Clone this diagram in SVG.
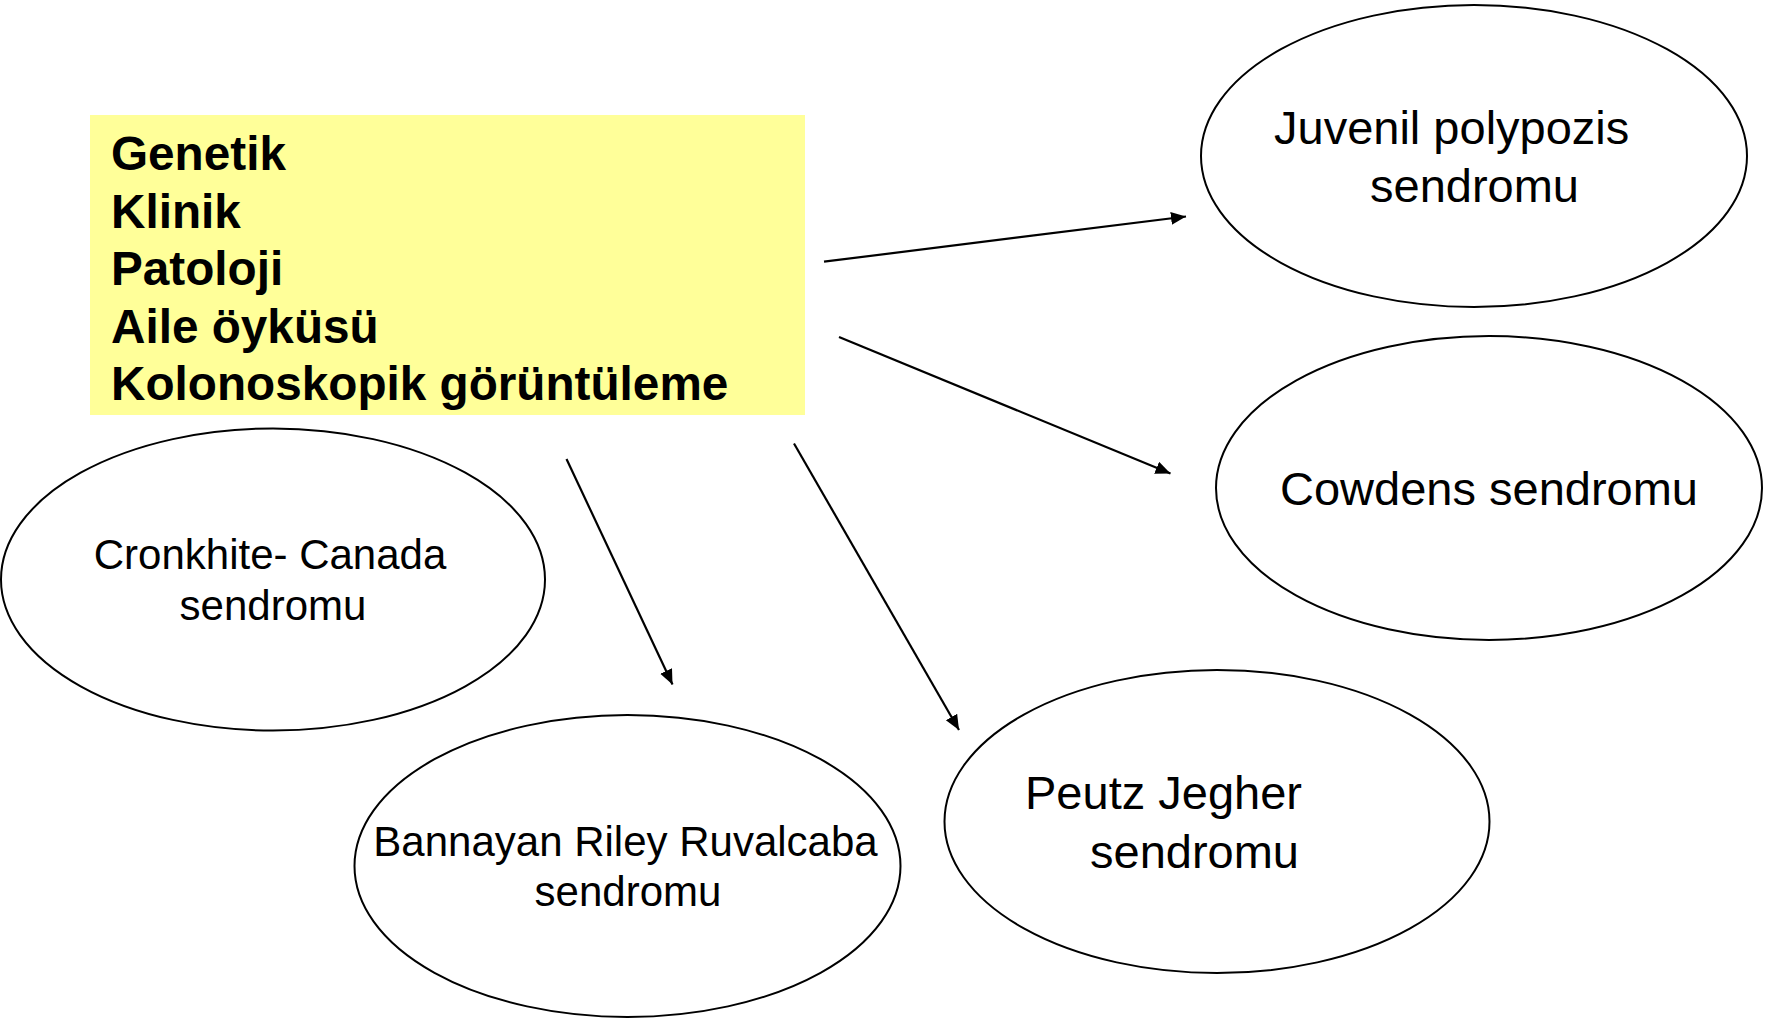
<svg xmlns="http://www.w3.org/2000/svg" width="1776" height="1018" viewBox="0 0 1776 1018">
<style>
.node ellipse{fill:#fff;stroke:#000;stroke-width:2}
.lbl{font-family:"Liberation Sans",Arial,sans-serif;fill:#000}
.bold{font-family:"Liberation Sans",Arial,sans-serif;font-weight:bold;font-size:47.7px;fill:#000}
.edge{stroke:#000;stroke-width:2.2;fill:none;marker-end:url(#ah)}
</style>
<defs>
<marker id="ah" markerUnits="userSpaceOnUse" markerWidth="16" markerHeight="14" refX="15" refY="6.5" orient="auto">
<path d="M0,0 L15,6.5 L0,13 z" fill="#000"/>
</marker>
</defs>
<rect width="1776" height="1018" fill="#fff"/>
<g id="criteria">
<rect x="90" y="115" width="715" height="300" fill="#FFFF99"/>
<text class="bold" x="111" y="170">Genetik</text>
<text class="bold" x="111" y="228">Klinik</text>
<text class="bold" x="111" y="285">Patoloji</text>
<text class="bold" x="111" y="343">Aile öyküsü</text>
<text class="bold" x="111" y="400">Kolonoskopik görüntüleme</text>
</g>
<g id="juvenil" class="node">
<ellipse cx="1474" cy="156" rx="273" ry="151"/>
<text class="lbl" font-size="47" x="1274" y="144">Juvenil polypozis</text>
<text class="lbl" font-size="47" x="1370" y="202">sendromu</text>
</g>
<g id="cowdens" class="node">
<ellipse cx="1489" cy="488" rx="273" ry="152"/>
<text class="lbl" font-size="47" x="1489" y="505" text-anchor="middle">Cowdens sendromu</text>
</g>
<g id="cronkhite" class="node">
<ellipse cx="273" cy="579.5" rx="272" ry="151"/>
<text class="lbl" font-size="42" x="270" y="569" text-anchor="middle">Cronkhite- Canada</text>
<text class="lbl" font-size="42" x="273" y="620" text-anchor="middle">sendromu</text>
</g>
<g id="bannayan" class="node">
<ellipse cx="627.5" cy="866" rx="273" ry="151"/>
<text class="lbl" font-size="42" x="625.5" y="856" text-anchor="middle">Bannayan Riley Ruvalcaba</text>
<text class="lbl" font-size="42" x="628" y="906" text-anchor="middle">sendromu</text>
</g>
<g id="peutz" class="node">
<ellipse cx="1217" cy="821.5" rx="272.5" ry="151.5"/>
<text class="lbl" font-size="47" x="1025" y="809">Peutz Jegher</text>
<text class="lbl" font-size="47" x="1090" y="868">sendromu</text>
</g>
<g id="connectors">
<line class="edge" x1="824" y1="261.7" x2="1186" y2="216.5"/>
<line class="edge" x1="839" y1="337" x2="1170.5" y2="473.5"/>
<line class="edge" x1="566.5" y1="459" x2="672.5" y2="684.5"/>
<line class="edge" x1="794" y1="443.5" x2="959" y2="730"/>
</g>
</svg>
